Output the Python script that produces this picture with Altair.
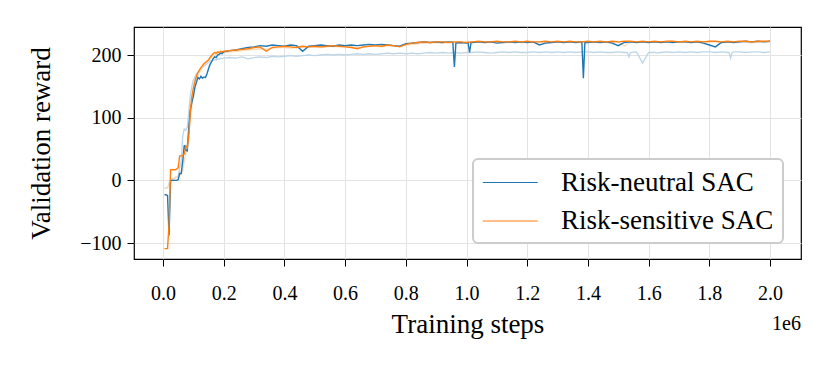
import altair as alt
import pandas as pd

# ---- data (x in millions of training steps) ----
early_x = [0.005, 0.010, 0.015, 0.020, 0.025, 0.030, 0.035, 0.040, 0.045, 0.050,
           0.055, 0.060, 0.065, 0.070, 0.075, 0.080, 0.085, 0.090, 0.095, 0.100,
           0.105, 0.110, 0.115, 0.120, 0.125, 0.130, 0.135, 0.140, 0.145, 0.150,
           0.155, 0.160, 0.165, 0.170, 0.175, 0.180, 0.185, 0.190, 0.195, 0.200]
late_x = [round(0.22 + 0.02 * i, 2) for i in range(90)]

neutral_early = [-23, -23, -24, -88, 0, 0, 0, 0, 0, 1,
                 11, 11, 30, 56, 48, 47, 85, 112, 124, 134,
                 148, 156, 164, 162, 166, 163, 165, 164, 170, 178,
                 185, 189, 194, 197, 196, 200, 201, 203, 202, 205]
neutral_late = [207, 208, 210, 212, 213, 215, 214, 216, 215, 214,
                216, 215, 206, 214, 215, 216, 215, 214, 216, 215,
                216, 215, 216, 217, 216, 217, 216, 215, 214, 218,
                219, 220, 221, 220, 221, 220, 221, 181, 220, 219,
                220, 221, 220, 221, 219, 220, 221, 220, 221, 220,
                221, 216, 219, 220, 221, 220, 221, 220, 221, 220,
                221, 220, 221, 219, 215, 220, 221, 220, 221, 220,
                221, 220, 221, 220, 221, 221, 220, 221, 219, 216,
                213, 220, 221, 220, 221, 222, 221, 222, 221, 222]
neutral_extra_x = [0.955, 0.965, 1.005, 1.010, 1.015, 1.385, 1.390]
neutral_extra_y = [220, 219, 220, 204, 220, 163, 220]

sensitive_early = [-109, -109, -109, -70, 17, 17, 17, 17, 18, 20,
                   39, 39, 40, 42, 55, 52, 70, 110, 133, 147,
                   158, 166, 172, 176, 180, 183, 186, 188, 190, 192,
                   196, 199, 202, 204, 203, 205, 204, 206, 205, 206]
sensitive_late = [207, 208, 209, 210, 212, 213, 206, 212, 213, 214,
                  213, 212, 214, 213, 214, 213, 214, 215, 214, 213,
                  212, 210, 213, 214, 215, 214, 216, 215, 213, 217,
                  219, 220, 221, 220, 221, 221, 220, 221, 221, 220,
                  221, 222, 221, 221, 222, 221, 221, 222, 221, 222,
                  221, 221, 222, 221, 222, 221, 222, 221, 221, 222,
                  221, 222, 221, 222, 221, 222, 222, 221, 222, 221,
                  222, 221, 222, 222, 221, 222, 221, 222, 221, 222,
                  222, 221, 222, 221, 222, 222, 221, 222, 222, 222]

neutral_b_early = [-12, -12, -12, -5, 0, 0, 2, 5, 5, 6,
                   20, 30, 70, 82, 80, 85, 110, 135, 150, 160,
                   165, 170, 172, 175, 178, 180, 182, 184, 186, 188,
                   190, 191, 192, 193, 192, 194, 193, 195, 194, 195]
neutral_b_late = [196, 195, 197, 194, 196, 197, 196, 198, 197, 198,
                  199, 198, 199, 200, 199, 200, 201, 200, 201, 200,
                  201, 202, 201, 202, 201, 202, 203, 202, 203, 202,
                  203, 202, 203, 204, 203, 204, 203, 204, 203, 204,
                  204, 205, 204, 203, 204, 205, 204, 205, 204, 204,
                  205, 204, 205, 204, 205, 204, 205, 204, 205, 205,
                  204, 205, 204, 204, 205, 204, 204, 205, 187, 204,
                  205, 204, 205, 204, 205, 204, 205, 204, 205, 205,
                  204, 205, 204, 205, 205, 204, 205, 205, 204, 205]
neutral_b_extra_x = [1.530, 1.535, 1.615, 1.625, 1.865, 1.870, 1.875]
neutral_b_extra_y = [204, 197, 204, 203, 204, 195, 204]

sensitive_b_early = [-12, -12, -12, -8, 0, 2, 3, 3, 5, 5,
                     8, 10, 15, 30, 45, 60, 75, 95, 120, 140,
                     152, 160, 168, 172, 178, 182, 185, 188, 190, 193,
                     195, 197, 199, 200, 201, 202, 203, 203, 204, 204]
sensitive_b_late = [205, 206, 207, 208, 209, 210, 209, 211, 212, 212,
                    211, 212, 213, 212, 213, 212, 213, 214, 213, 214,
                    213, 212, 213, 214, 214, 213, 215, 214, 214, 216,
                    217, 218, 219, 219, 220, 219, 220, 220, 219, 220,
                    220, 221, 220, 220, 221, 220, 220, 221, 220, 221,
                    220, 220, 221, 220, 221, 220, 221, 220, 220, 221,
                    220, 221, 220, 220, 221, 214, 221, 220, 221, 220,
                    221, 220, 221, 221, 220, 221, 220, 221, 220, 221,
                    221, 220, 221, 220, 221, 221, 220, 221, 221, 221]

names = ["Risk-neutral SAC", "Risk-sensitive SAC"]
colors = ["#1f77b4", "#ff7f0e"]


def series(name, ys_early, ys_late, ex=(), ey=()):
    xs = early_x + late_x + list(ex)
    ys = ys_early + ys_late + list(ey)
    df = pd.DataFrame({"x": xs, "y": ys})
    df["series"] = name
    return df.sort_values("x").reset_index(drop=True)


df_main = pd.concat([
    series(names[0], neutral_early, neutral_late, neutral_extra_x, neutral_extra_y),
    series(names[1], sensitive_early, sensitive_late),
], ignore_index=True)
df_nb = series("nb", neutral_b_early, neutral_b_late, neutral_b_extra_x, neutral_b_extra_y)
df_sb = series("sb", sensitive_b_early, sensitive_b_late)

xscale = alt.Scale(domain=[-0.0955, 2.102], nice=False, zero=False)
yscale = alt.Scale(domain=[-125.5, 244.7], nice=False, zero=False)
xaxis = alt.Axis(values=[0.0, 0.2, 0.4, 0.6, 0.8, 1.0, 1.2, 1.4, 1.6, 1.8, 2.0],
                 format=".1f", title="Training steps", labelPadding=17, titlePadding=8)
yaxis = alt.Axis(values=[-100, 0, 100, 200], format="d", title="Validation reward",
                 labelPadding=6, titlePadding=24)


def faint(df, color):
    return alt.Chart(df).mark_line(strokeWidth=1.3, color=color).encode(
        x=alt.X("x:Q", scale=xscale, axis=xaxis),
        y=alt.Y("y:Q", scale=yscale, axis=yaxis),
    )


color_enc = alt.Color(
    "series:N",
    scale=alt.Scale(domain=names, range=colors),
    legend=alt.Legend(
        title=None, orient="none", legendX=339, legendY=132,
        symbolType="M-1,0L3,0", symbolSize=756, symbolStrokeWidth=1.2, symbolOpacity=1,
        labelFont="Liberation Serif", labelFontSize=27, labelColor="black", labelLimit=600,
        labelOffset=50, rowPadding=10.5, padding=9,
        fillColor="white", strokeColor="#cccccc", cornerRadius=5,
    ),
)

main = alt.Chart(df_main).mark_line(strokeWidth=1.4).encode(
    x=alt.X("x:Q", scale=xscale, axis=xaxis),
    y=alt.Y("y:Q", scale=yscale, axis=yaxis),
    color=color_enc,
)

offset_label = alt.Chart(pd.DataFrame({"t": ["1e6"]})).mark_text(
    font="Liberation Serif", fontSize=20, align="right", baseline="alphabetic", color="black"
).encode(text="t:N", x=alt.value(667), y=alt.value(303))

chart = alt.layer(
    faint(df_nb, "#bcd6e8"), faint(df_sb, "#ffd9b7"), main, offset_label
).properties(
    width=667, height=232,
    autosize=alt.AutoSizeParams(type="none"),
    padding={"left": 126, "top": 19, "right": 22, "bottom": 105},
).configure_view(stroke="black", strokeWidth=1.2).configure_axis(
    grid=True, gridColor="#e3e3e3", gridWidth=1, domain=False,
    tickColor="black", tickSize=7, tickWidth=1,
    labelFont="Liberation Serif", labelFontSize=20, labelColor="black",
    titleFont="Liberation Serif", titleFontSize=27, titleFontWeight="normal", titleColor="black",
).configure_legend(strokeWidth=2)

chart.save("out.html", embed_options={"renderer": "svg", "actions": False})
